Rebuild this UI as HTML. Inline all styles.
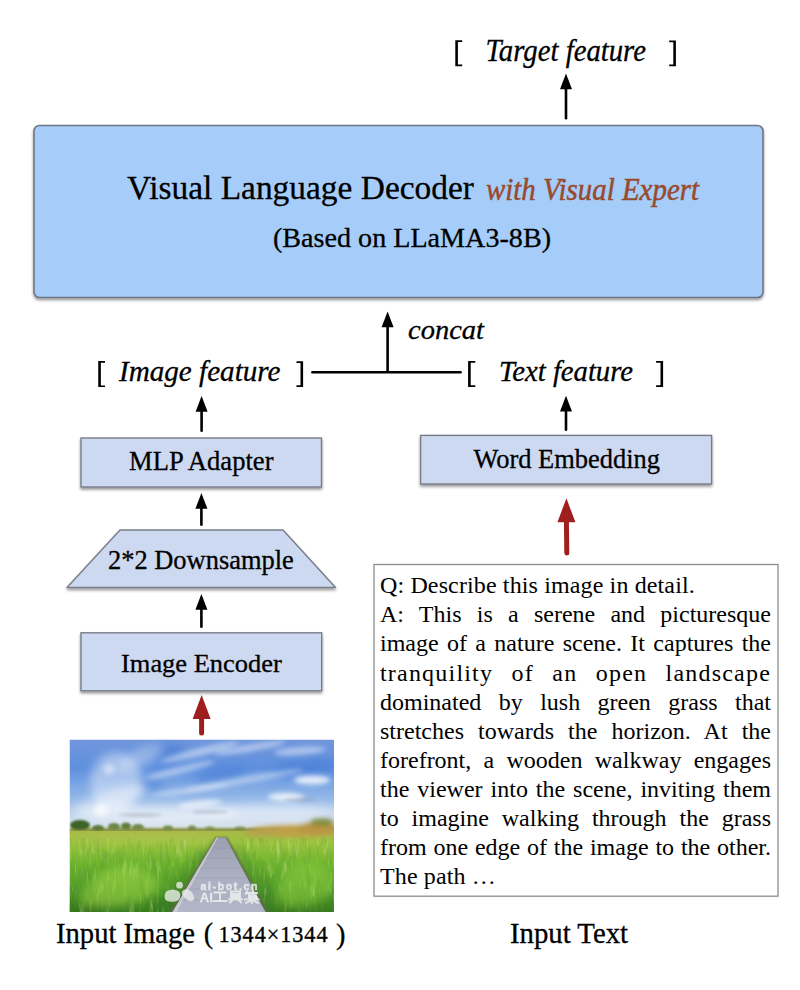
<!DOCTYPE html>
<html><head><meta charset="utf-8"><style>
html,body{margin:0;padding:0;background:#fff;width:800px;height:990px;overflow:hidden;position:relative}
svg{display:block;position:absolute;left:0;top:0}
.tl{position:absolute;left:380px;width:391px;font-family:"Liberation Serif",serif;font-size:24.0px;line-height:29.04px;white-space:nowrap;color:#000}
.tl.j{text-align:justify;text-align-last:justify}
.tl.n{letter-spacing:0.13px}
</style></head><body>
<svg width="800" height="990" viewBox="0 0 800 990">
<defs><filter id="sh" x="-5%" y="-10%" width="110%" height="130%"><feGaussianBlur in="SourceAlpha" stdDeviation="1.5"/><feOffset dx="0.3" dy="2.2" result="b"/><feComponentTransfer><feFuncA type="linear" slope="0.42"/></feComponentTransfer><feMerge><feMergeNode/><feMergeNode in="SourceGraphic"/></feMerge></filter></defs>
<path d="M455.3,40.2 H462.2 V41.900000000000006 H457.90000000000003 V64.5 H462.2 V66.2 H455.3 Z" fill="#000"/>
<text x="485.5" y="60.6" font-size="30.5" fill="#000" style="font-family:'Liberation Serif';font-style:italic;" textLength="160.5" lengthAdjust="spacingAndGlyphs"  stroke="#000" stroke-width="0.3">Target feature</text>
<path d="M675.9,40.5 H669.2 V42.2 H673.3 V64.5 H669.2 V66.2 H675.9 Z" fill="#000"/>
<path d="M560.0,89.3 L566,73.6 L572.0,89.3 Z" fill="#000"/><line x1="566" y1="88.3" x2="566" y2="118.2" stroke="#000" stroke-width="2.6" stroke-linecap="round"/>
<rect x="34" y="125.5" width="729" height="172" rx="5.5" fill="#a6cdf9" stroke="#6e7686" stroke-width="1.6" filter="url(#sh)"/>
<text x="127" y="199.4" font-size="34.2" fill="#000" style="font-family:'Liberation Serif';" textLength="347" lengthAdjust="spacingAndGlyphs"  stroke="#000" stroke-width="0.3">Visual Language Decoder</text>
<text x="486" y="200" font-size="30.5" fill="#984a2e" style="font-family:'Liberation Serif';font-style:italic;" textLength="213" lengthAdjust="spacingAndGlyphs" stroke="#984a2e" stroke-width="0.5">with Visual Expert</text>
<text x="273" y="247" font-size="27.5" fill="#000" style="font-family:'Liberation Serif';" textLength="278" lengthAdjust="spacingAndGlyphs"  stroke="#000" stroke-width="0.3">(Based on LLaMA3-8B)</text>
<path d="M381.6,327.2 L387.6,311.5 L393.6,327.2 Z" fill="#000"/><line x1="387.6" y1="326.2" x2="387.6" y2="370.7" stroke="#000" stroke-width="2.6" stroke-linecap="round"/>
<line x1="312.4" y1="372.2" x2="460.6" y2="372.2" stroke="#000" stroke-width="2.4" stroke-linecap="round"/>
<text x="408" y="339.2" font-size="27" fill="#000" style="font-family:'Liberation Serif';font-style:italic;" textLength="76" lengthAdjust="spacingAndGlyphs"  stroke="#000" stroke-width="0.3">concat</text>
<path d="M98.25,361.1 H105 V362.8 H100.85 V385.40000000000003 H105 V387.1 H98.25 Z" fill="#000"/>
<text x="119" y="381" font-size="29" fill="#000" style="font-family:'Liberation Serif';font-style:italic;" textLength="161.5" lengthAdjust="spacingAndGlyphs"  stroke="#000" stroke-width="0.3">Image feature</text>
<path d="M303.1,361.2 H296.5 V362.9 H300.5 V385.3 H296.5 V387 H303.1 Z" fill="#000"/>
<path d="M468.1,361.1 H475.3 V362.8 H470.70000000000005 V385.3 H475.3 V387 H468.1 Z" fill="#000"/>
<text x="499" y="381" font-size="29" fill="#000" style="font-family:'Liberation Serif';font-style:italic;" textLength="134" lengthAdjust="spacingAndGlyphs"  stroke="#000" stroke-width="0.3">Text feature</text>
<path d="M663.1,361.1 H656.1 V362.8 H660.5 V385.2 H656.1 V386.9 H663.1 Z" fill="#000"/>
<path d="M195.6,411.7 L201.6,396 L207.6,411.7 Z" fill="#000"/><line x1="201.6" y1="410.7" x2="201.6" y2="430.7" stroke="#000" stroke-width="2.6" stroke-linecap="round"/>
<path d="M560.0,411.5 L566,395.8 L572.0,411.5 Z" fill="#000"/><line x1="566" y1="410.5" x2="566" y2="429.7" stroke="#000" stroke-width="2.6" stroke-linecap="round"/>
<rect x="81" y="438" width="240.5" height="49" fill="#cdd8f1" stroke="#787d88" stroke-width="1.4" filter="url(#sh)"/>
<text x="129" y="470.3" font-size="27.3" fill="#000" style="font-family:'Liberation Serif';" textLength="144.5" lengthAdjust="spacingAndGlyphs"  stroke="#000" stroke-width="0.3">MLP Adapter</text>
<rect x="420.6" y="435.4" width="291" height="48.6" fill="#cdd8f1" stroke="#787d88" stroke-width="1.4" filter="url(#sh)"/>
<text x="473.4" y="468.4" font-size="27.2" fill="#000" style="font-family:'Liberation Serif';" textLength="186.6" lengthAdjust="spacingAndGlyphs"  stroke="#000" stroke-width="0.3">Word Embedding</text>
<path d="M195.4,508.7 L201.4,493 L207.4,508.7 Z" fill="#000"/><line x1="201.4" y1="507.7" x2="201.4" y2="524.7" stroke="#000" stroke-width="2.6" stroke-linecap="round"/>
<path d="M120,530 L283,530 L335.5,587.5 L67,587.5 Z" fill="#cdd8f1" stroke="#787d88" stroke-width="1.4" stroke-linejoin="round" filter="url(#sh)"/>
<text x="108" y="569" font-size="26.6" fill="#000" style="font-family:'Liberation Serif';" textLength="185.8" lengthAdjust="spacingAndGlyphs"  stroke="#000" stroke-width="0.3">2*2 Downsample</text>
<path d="M195.4,609.7 L201.4,594 L207.4,609.7 Z" fill="#000"/><line x1="201.4" y1="608.7" x2="201.4" y2="626.7" stroke="#000" stroke-width="2.6" stroke-linecap="round"/>
<rect x="81" y="632.8" width="240.7" height="58" fill="#cdd8f1" stroke="#787d88" stroke-width="1.4" filter="url(#sh)"/>
<text x="121" y="671.6" font-size="26" fill="#000" style="font-family:'Liberation Serif';" textLength="160.8" lengthAdjust="spacingAndGlyphs"  stroke="#000" stroke-width="0.3">Image Encoder</text>
<path d="M192.6,719 L201.6,695 L210.6,719 Z" fill="#9f1f1f"/><line x1="201.6" y1="718" x2="201.6" y2="733.1" stroke="#9f1f1f" stroke-width="5" stroke-linecap="round"/>
<path d="M557.4,522.2 L566.4,498.2 L575.4,522.2 Z" fill="#9f1f1f"/><line x1="566.4" y1="521.2" x2="566.8" y2="553.0" stroke="#9f1f1f" stroke-width="5" stroke-linecap="round"/>
<g>
<defs>
<clipPath id="imgclip"><rect x="69.5" y="739.5" width="264.5" height="172.5"/></clipPath>
<linearGradient id="sky" x1="0" y1="0" x2="0" y2="1">
  <stop offset="0" stop-color="#7096dc"/>
  <stop offset="0.3" stop-color="#5f90de"/>
  <stop offset="0.62" stop-color="#94b8e8"/>
  <stop offset="0.85" stop-color="#cddcee"/>
  <stop offset="1" stop-color="#e0e6e8"/>
</linearGradient>
<linearGradient id="grass" x1="0" y1="0" x2="0" y2="1">
  <stop offset="0" stop-color="#a8b846"/>
  <stop offset="0.14" stop-color="#9cc43e"/>
  <stop offset="0.4" stop-color="#6eb42e"/>
  <stop offset="0.7" stop-color="#509c28"/>
  <stop offset="1" stop-color="#347a1c"/>
</linearGradient>
<linearGradient id="pathg" x1="0" y1="0" x2="0" y2="1">
  <stop offset="0" stop-color="#9a9eb0"/>
  <stop offset="0.5" stop-color="#aab0c2"/>
  <stop offset="1" stop-color="#b2b6c6"/>
</linearGradient>
<filter id="blur4" x="-50%" y="-50%" width="200%" height="200%"><feGaussianBlur stdDeviation="4"/></filter>
<filter id="blur3" x="-50%" y="-50%" width="200%" height="200%"><feGaussianBlur stdDeviation="2.5"/></filter>
<filter id="blur2" x="-50%" y="-50%" width="200%" height="200%"><feGaussianBlur stdDeviation="1.5"/></filter>
<filter id="blur1" x="-50%" y="-50%" width="200%" height="200%"><feGaussianBlur stdDeviation="0.8"/></filter>
<filter id="grn" x="0" y="0" width="100%" height="100%" filterUnits="objectBoundingBox">
  <feTurbulence type="fractalNoise" baseFrequency="0.35 0.06" numOctaves="3" seed="7" result="n"/>
  <feColorMatrix in="n" type="matrix" values="0 0 0 0 0.12  0 0 0 0 0.30  0 0 0 0 0.08  -2.2 0 0 0 1.05" result="dark"/>
  <feComposite in="dark" in2="SourceAlpha" operator="in"/>
</filter>
<filter id="grl" x="0" y="0" width="100%" height="100%" filterUnits="objectBoundingBox">
  <feTurbulence type="fractalNoise" baseFrequency="0.3 0.05" numOctaves="3" seed="11" result="n"/>
  <feColorMatrix in="n" type="matrix" values="0 0 0 0 0.75  0 0 0 0 0.88  0 0 0 0 0.35  2.4 0 0 0 -1.35" result="lt"/>
  <feComposite in="lt" in2="SourceAlpha" operator="in"/>
</filter>
</defs>
<g clip-path="url(#imgclip)">
<rect x="69.5" y="739.5" width="264.5" height="95" fill="url(#sky)"/>
<!-- darker blue patches -->
<g filter="url(#blur4)" fill="#3f78d4" opacity="0.5">
  <ellipse cx="168" cy="752" rx="18" ry="8"/>
  <ellipse cx="220" cy="775" rx="26" ry="6" transform="rotate(-10 220 775)"/>
  <ellipse cx="305" cy="768" rx="34" ry="8" transform="rotate(-6 305 768)"/>
  <ellipse cx="150" cy="785" rx="14" ry="5"/>
</g>
<!-- haze / clouds -->
<g filter="url(#blur4)" fill="#ffffff">
  <ellipse cx="116" cy="782" rx="26" ry="30" opacity="0.4"/>
  <ellipse cx="110" cy="800" rx="40" ry="9" opacity="0.4" transform="rotate(-18 110 800)"/>
  <ellipse cx="140" cy="758" rx="26" ry="9" opacity="0.3" transform="rotate(-25 140 758)"/>
  <ellipse cx="160" cy="814" rx="80" ry="9" opacity="0.5"/>
  <ellipse cx="270" cy="812" rx="70" ry="8" opacity="0.45"/>
</g>
<g filter="url(#blur3)" fill="#ffffff">
  <ellipse cx="109" cy="769" rx="6" ry="5" opacity="0.5"/>
  <ellipse cx="101" cy="810" rx="7" ry="6" opacity="0.7"/>
  <ellipse cx="200" cy="752" rx="40" ry="4" opacity="0.45" transform="rotate(-14 200 752)"/>
  <ellipse cx="250" cy="748" rx="36" ry="3.5" opacity="0.45" transform="rotate(-10 250 748)"/>
  <ellipse cx="300" cy="751" rx="26" ry="4" opacity="0.45" transform="rotate(-4 300 751)"/>
  <ellipse cx="180" cy="770" rx="36" ry="3.5" opacity="0.45" transform="rotate(-14 180 770)"/>
  <ellipse cx="245" cy="780" rx="60" ry="3.5" opacity="0.4" transform="rotate(-10 245 780)"/>
  <ellipse cx="190" cy="790" rx="40" ry="3" opacity="0.4" transform="rotate(-8 190 790)"/>
  <ellipse cx="312" cy="780" rx="18" ry="4.5" opacity="0.8"/>
  <ellipse cx="286" cy="797" rx="18" ry="4" opacity="0.8"/>
  <ellipse cx="200" cy="804" rx="22" ry="3.5" opacity="0.65" transform="rotate(-6 200 804)"/>
</g>
<g filter="url(#blur2)" fill="#8890a0" opacity="0.35">
  <ellipse cx="140" cy="815" rx="22" ry="2"/>
  <ellipse cx="210" cy="812" rx="18" ry="2"/>
  <ellipse cx="300" cy="800" rx="16" ry="2"/>
</g>
<!-- tree line -->
<g filter="url(#blur1)">
  <rect x="69.5" y="828" width="265" height="5" fill="#8a9248"/>
  <ellipse cx="80" cy="825" rx="10" ry="5" fill="#3e6328"/>
  <ellipse cx="98" cy="828" rx="6" ry="3" fill="#59763a"/>
  <ellipse cx="114" cy="826.5" rx="6" ry="3.5" fill="#6a8644"/>
  <ellipse cx="126" cy="826" rx="5" ry="3.5" fill="#607c3c"/>
  <ellipse cx="138" cy="827" rx="6" ry="3" fill="#6e8846"/>
  <ellipse cx="168" cy="828" rx="5" ry="2.5" fill="#708a48"/>
  <ellipse cx="192" cy="828" rx="4" ry="2.5" fill="#708a48"/>
  <ellipse cx="210" cy="828.5" rx="5" ry="2" fill="#7a9048"/>
  <ellipse cx="240" cy="828.5" rx="6" ry="2" fill="#7a9048"/>
</g>
<!-- grass -->
<rect x="69.5" y="831" width="265" height="82" fill="url(#grass)"/>
<g filter="url(#blur3)">
  <ellipse cx="295" cy="831" rx="46" ry="6" fill="#c0a048"/>
  <ellipse cx="318" cy="828" rx="20" ry="6" fill="#b89444"/>
  <ellipse cx="262" cy="833" rx="20" ry="3.5" fill="#b4a050" opacity="0.8"/>
  <ellipse cx="322" cy="822" rx="12" ry="3.5" fill="#7a8a3a"/>
</g>
<rect x="69.5" y="838" width="265" height="75" fill="#000" filter="url(#grn)" opacity="0.55"/>
<rect x="69.5" y="838" width="265" height="75" fill="#000" filter="url(#grl)" opacity="0.5"/>
<g filter="url(#blur4)">
  <path d="M80,900 Q90,870 120,868 Q150,866 160,885 Q150,905 115,906 Q85,908 80,900 Z" fill="#a8dc48" opacity="0.5"/>
  <path d="M275,900 Q280,868 305,862 Q330,862 334,885 Q325,906 300,906 Q278,908 275,900 Z" fill="#9ad640" opacity="0.45"/>
  <ellipse cx="150" cy="838" rx="80" ry="4" fill="#b8c858" opacity="0.5"/>
  <ellipse cx="85" cy="909" rx="30" ry="5" fill="#356f20" opacity="0.5"/>
  <path d="M200,850 L214,840 L176,912 L150,912 Z" fill="#2f6a1c" opacity="0.35"/>
  <path d="M232,845 L240,845 L290,912 L270,912 Z" fill="#2f6a1c" opacity="0.25"/>
  <ellipse cx="310" cy="909" rx="30" ry="5" fill="#3a7a22" opacity="0.4"/>
</g>
<g filter="url(#blur2)" stroke="#2e6a1c" stroke-width="1" opacity="0.35">
  <path d="M100,850 L104,870 M120,848 L118,866 M150,852 L156,874 M170,856 L166,880 M88,870 L92,900 M140,878 L146,905 M195,860 L190,895 M205,850 L198,870 M245,852 L252,880 M260,860 L272,900 M285,850 L282,872 M305,858 L310,885 M320,880 L318,905 M230,845 L236,860 M130,895 L126,912 M280,895 L286,912"/>
</g>
<!-- path -->
<path d="M215.5,837 L227,837 L270,913 L168,913 Z" fill="#5e6a48" opacity="0.8" filter="url(#blur1)"/>
<path d="M216.5,837.5 L225.5,837.5 L266,913 L172,913 Z" fill="url(#pathg)"/>
<path d="M216.5,837.5 L218,837.5 L176,913 L172,913 Z" fill="#d0d0d8" opacity="0.8"/>
<g stroke="#8a8ea2" stroke-width="0.7" opacity="0.5">
  <line x1="212" y1="848" x2="232" y2="848"/>
  <line x1="206" y1="858" x2="237" y2="858"/>
  <line x1="200" y1="868" x2="243" y2="868"/>
  <line x1="194" y1="878" x2="249" y2="878"/>
  <line x1="188" y1="889" x2="254" y2="889"/>
  <line x1="181" y1="900" x2="260" y2="900"/>
</g>
<!-- watermark -->
<g fill="#e8ece8" opacity="0.8">
  <circle cx="179.5" cy="885.2" r="3.4"/>
  <path d="M165,899 Q163,891 171,889.8 Q177.5,889 180,893 Q181.5,900 175,901.5 Q167,902.5 165,899 Z"/>
  <path d="M182,891.5 Q185.5,887.5 190.5,891 Q195.5,896 193.5,900 Q190,903 185,898 Q181,894.5 182,891.5 Z"/>
</g>
<text x="200.5" y="889.8" font-size="10.5" fill="#eef0f0" stroke="#eef0f0" stroke-width="0.45" opacity="0.85" style="font-family:'Liberation Sans';font-weight:bold" textLength="57" lengthAdjust="spacing">ai-bot.cn</text>
<text x="199.8" y="901.8" font-size="12.5" fill="#eef0f0" stroke="#eef0f0" stroke-width="0.3" opacity="0.85" style="font-family:'Liberation Sans';font-weight:bold" textLength="13" lengthAdjust="spacingAndGlyphs">AI</text>
<g stroke="#eef0f0" stroke-width="1.9" fill="none" opacity="0.85" stroke-linecap="square">
  <path d="M214.5,892.5 H225.5 M220,892.5 V901 M213.5,901 H226.5"/>
  <path d="M231,891.5 H240 V898 H231 Z M231,894 H240 M231,896 H240 M229,899.5 H242 M232.5,900 L230,902.5 M238.5,900 L241,902.5"/>
  <path d="M247,891.5 L245.5,894 M246.5,893 H257 M249,893 V898 M253,891.5 V898 M249,895.5 H256 M249,897.5 H257 M245,899.5 H258.5 M251.8,898 V903 M251.5,900 L246,903 M252,900 L258,903"/>
</g>
</g>
</g>
<rect x="374" y="564.5" width="404" height="331.7" fill="#fff" stroke="#8c8c8c" stroke-width="1.3"/>
<text x="56" y="942.6" font-size="28.4" fill="#000" style="font-family:'Liberation Serif';" textLength="139" lengthAdjust="spacingAndGlyphs"  stroke="#000" stroke-width="0.3">Input Image</text>
<text x="203.8" y="943.3" font-size="28.4" fill="#000" style="font-family:'Liberation Serif';"  stroke="#000" stroke-width="0.3">(</text>
<text x="218.5" y="941.6" font-size="22.2" fill="#000" style="font-family:'Liberation Serif';" textLength="109" lengthAdjust="spacing"  stroke="#000" stroke-width="0.35">1344×1344</text>
<text x="336" y="944" font-size="28.4" fill="#000" style="font-family:'Liberation Serif';"  stroke="#000" stroke-width="0.3">)</text>
<text x="510" y="943" font-size="28.4" fill="#000" style="font-family:'Liberation Serif';" textLength="118" lengthAdjust="spacingAndGlyphs"  stroke="#000" stroke-width="0.3">Input Text</text>
</svg>
<div class="tl n" style="top:571.38px;">Q: Describe this image in detail.</div>
<div class="tl j" style="top:600.42px;">A: This is a serene and picturesque</div>
<div class="tl j" style="top:629.46px;">image of a nature scene. It captures the</div>
<div class="tl j" style="top:658.50px;letter-spacing:1.2px;">tranquility of an open landscape</div>
<div class="tl j" style="top:687.54px;">dominated by lush green grass that</div>
<div class="tl j" style="top:716.58px;">stretches towards the horizon. At the</div>
<div class="tl j" style="top:745.62px;">forefront, a wooden walkway engages</div>
<div class="tl j" style="top:774.66px;">the viewer into the scene, inviting them</div>
<div class="tl j" style="top:803.70px;">to imagine walking through the grass</div>
<div class="tl j" style="top:832.74px;">from one edge of the image to the other.</div>
<div class="tl n" style="top:861.78px;">The path …</div>
</body></html>
